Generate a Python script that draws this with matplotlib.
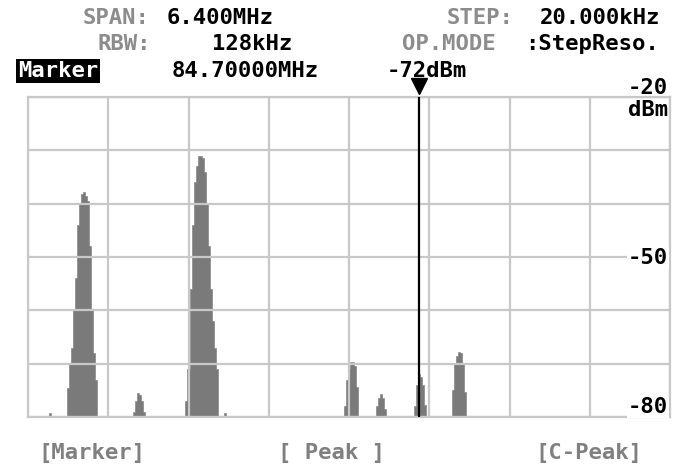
import numpy as np
import matplotlib.pyplot as plt

# sweep settings (MHz / dBm)
f_start = 80.8
f_step = 0.02
n_bins = 321
ref_level = -20
bottom_level = -80
marker_freq = 84.7

# trace: start bin and levels (dBm) of every signal above the floor
peak_starts = [11, 20, 53, 79, 98, 158, 174, 193, 212]
peak_levels = [
    [-79.2],
    [-74.5, -70, -67, -60, -54, -44, -40, -38.2, -37.8, -38.5, -39.5, -48, -60, -68, -73],
    [-79, -77, -75.5, -75.8, -77, -79],
    [-77, -71, -56, -44, -36, -33, -31, -31, -31.5, -34, -40, -48, -56, -62, -67, -71],
    [-79.2],
    [-78, -73, -71, -69.6, -69.6, -70.5, -74.3],
    [-78, -76.5, -75.7, -76.5, -78.5],
    [-78, -74, -72, -72.5, -74, -77.7],
    [-75, -70, -68.5, -67.8, -68, -70, -75.3],
]

freqs = f_start + f_step * np.arange(n_bins)
trace = np.full(n_bins, float(bottom_level))
for s, lv in zip(peak_starts, peak_levels):
    trace[s:s + len(lv)] = lv
edges = np.append(freqs - f_step / 2, freqs[-1] + f_step / 2)

W, H = 686, 468
fig = plt.figure(figsize=(W / 100, H / 100), dpi=100)
ax = fig.add_axes([28 / W, 1 - 417 / H, 642 / W, 320 / H])

# trace under the grid, like the instrument screen
ax.stairs(trace, edges, baseline=bottom_level, fill=True,
          facecolor="#7a7a7a", edgecolor="#7a7a7a", linewidth=0.4, zorder=1)

span = f_step * (n_bins - 1)
ax.set_xlim(f_start, f_start + span)
ax.set_ylim(bottom_level, ref_level)
ax.set_xticks(f_start + span / 8 * np.arange(9))
ax.set_yticks(np.arange(bottom_level, ref_level + 1, 10))
ax.set_axisbelow(False)
ax.grid(True, color="#c8c8c8", linewidth=1.6)
ax.tick_params(length=0, labelbottom=False, labelleft=False)
for sp in ax.spines.values():
    sp.set_color("#c8c8c8")
    sp.set_linewidth(1.6)

# marker line + triangle
ax.axvline(marker_freq, color="black", linewidth=1.6, zorder=4)
ax.plot([marker_freq], [1.035], marker="v", color="black", markersize=11,
        transform=ax.get_xaxis_transform(), clip_on=False)

font = dict(family="DejaVu Sans Mono", fontweight="bold", fontsize=16)
gray = "#8c8c8c"


def put(x, y, s, color="black", ha="center", **kw):
    fig.text(x / W, 1 - y / H, s, color=color, ha=ha, va="center", **font, **kw)


put(116, 18, "SPAN:", gray)
put(220, 18, "6.400MHz")
put(480, 18, "STEP:", gray)
put(600, 18, "20.000kHz")
put(124, 44, "RBW:", gray)
put(252, 44, "128kHz")
put(449, 44, "OP.MODE", gray)
put(592, 44, ":StepReso.")
put(58, 71, "Marker", "white",
    bbox=dict(facecolor="black", edgecolor="none", pad=1.5))
put(245, 71, "84.70000MHz")
put(427, 71, "-72dBm")

put(668, 88, "-20", ha="right")
put(668, 110, "dBm", ha="right")
put(668, 258, "-50", ha="right",
    bbox=dict(facecolor="white", edgecolor="none", pad=0.5))
put(668, 407, "-80", ha="right",
    bbox=dict(facecolor="white", edgecolor="none", pad=0.5))

put(92, 453, "[Marker]", "#808080")
put(332, 453, "[ Peak ]", "#808080")
put(589, 453, "[C-Peak]", "#808080")

fig.savefig("out.png", dpi=100, facecolor="white")
